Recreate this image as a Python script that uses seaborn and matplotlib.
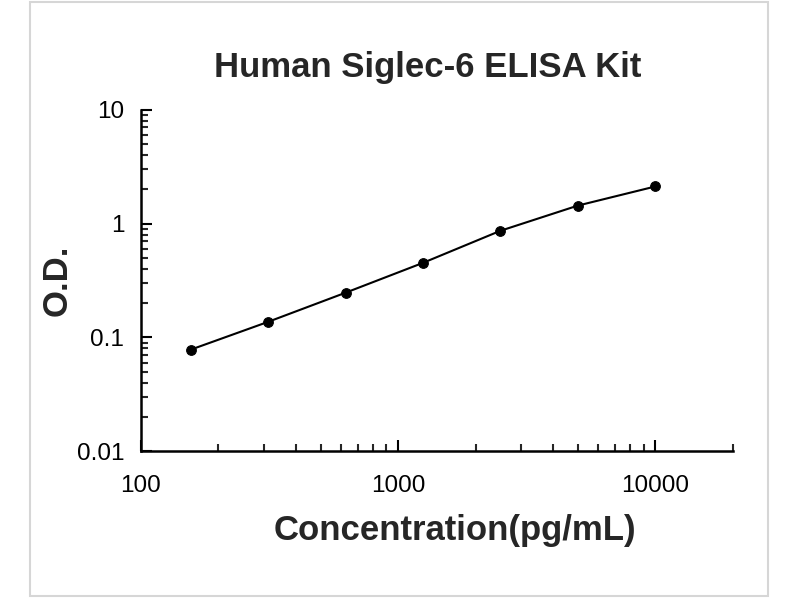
import matplotlib
matplotlib.use("Agg")
import matplotlib.pyplot as plt
import matplotlib.ticker as mticker
from matplotlib.patches import Rectangle
import seaborn as sns
import pandas as pd

# standard curve values
concentration = [156.25, 312.5, 625, 1250, 2500, 5000, 10000]
od = [0.078, 0.137, 0.247, 0.452, 0.865, 1.44, 2.12]

x_ticks = [100, 1000, 10000]
y_ticks = [0.01, 0.1, 1, 10]
y_tick_labels = ["0.01", "0.1", "1", "10"]

sns.set_style("ticks")
plt.rcParams["font.family"] = ["Liberation Sans", "DejaVu Sans"]

df = pd.DataFrame({"conc": concentration, "od": od})

fig = plt.figure(figsize=(8, 6), dpi=100)
ax = fig.add_axes([0.176, 0.248, 0.740, 0.569])

sns.lineplot(data=df, x="conc", y="od", ax=ax, color="black", linewidth=1.5,
             marker="o", markersize=7, markeredgecolor="black",
             markerfacecolor="black")

ax.set_xscale("log")
ax.set_yscale("log")
ax.set_xlim(100, 20000)
ax.set_ylim(0.01, 10)

ax.xaxis.set_major_locator(mticker.FixedLocator(x_ticks))
ax.xaxis.set_major_formatter(mticker.FixedFormatter([str(v) for v in x_ticks]))
ax.xaxis.set_minor_locator(mticker.LogLocator(base=10, subs=range(2, 10)))
ax.xaxis.set_minor_formatter(mticker.NullFormatter())
ax.yaxis.set_major_locator(mticker.FixedLocator(y_ticks))
ax.yaxis.set_major_formatter(mticker.FixedFormatter(y_tick_labels))
ax.yaxis.set_minor_locator(mticker.LogLocator(base=10, subs=range(2, 10)))
ax.yaxis.set_minor_formatter(mticker.NullFormatter())

ax.tick_params(which="major", direction="in", length=8, width=1.5,
               labelsize=17.5, colors="black")
ax.tick_params(which="minor", direction="in", length=5, width=1.5)
ax.tick_params(axis="x", which="major", pad=17)
ax.tick_params(axis="y", which="major", pad=12)

for side in ["top", "right"]:
    ax.spines[side].set_visible(False)
for side in ["left", "bottom"]:
    ax.spines[side].set_linewidth(1.8)
    ax.spines[side].set_color("black")

ax.set_xlabel("Concentration(pg/mL)", fontsize=25, fontweight="bold")
ax.set_ylabel("O.D.", fontsize=25, fontweight="bold")
ax.xaxis.set_label_coords(0.53, -0.185)
ax.yaxis.set_label_coords(-0.113, 0.5)

fig.text(0.535, 0.887, "Human Siglec-6 ELISA Kit", ha="center", va="center",
         fontsize=25, fontweight="bold")

# light frame round the whole picture
fig.patches.append(Rectangle((0.037, 0.006), 0.923, 0.99, transform=fig.transFigure,
                             fill=False, edgecolor="#d6d6d6", linewidth=1.5))

fig.savefig("out.png", dpi=100)
